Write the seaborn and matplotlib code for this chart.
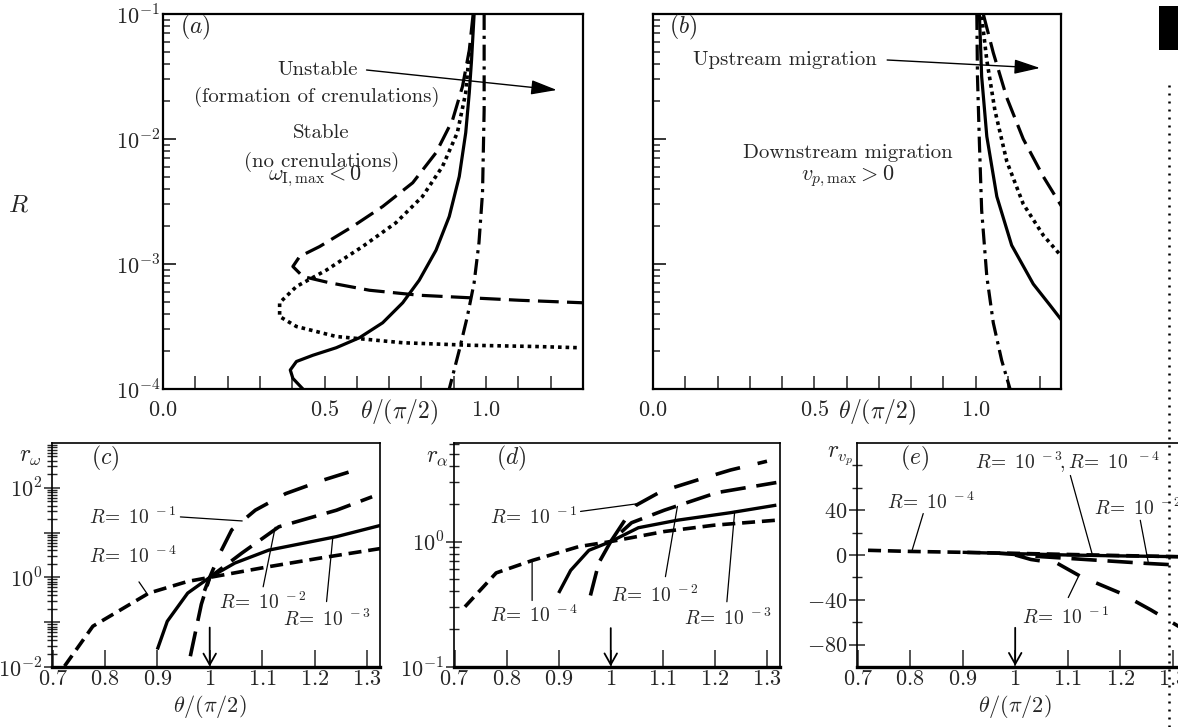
import numpy as np
import pandas as pd
import matplotlib
matplotlib.use("Agg")
import matplotlib.pyplot as plt
import matplotlib.ticker as mticker
from matplotlib.patches import Rectangle
from matplotlib.lines import Line2D
import seaborn as sns

# ---------------- data ----------------
# Panel (a): x = theta/(pi/2), y = log10(R)
a_solid_x = [0.433, 0.402, 0.394, 0.413, 0.464, 0.536, 0.608, 0.680, 0.742, 0.793,
             0.845, 0.886, 0.917, 0.937, 0.948, 0.955, 0.963]
a_solid_logR = [-4.0, -3.915, -3.848, -3.78, -3.73, -3.67, -3.59, -3.47, -3.31, -3.13,
                -2.89, -2.62, -2.30, -1.95, -1.63, -1.37, -1.0]
a_dash_x = [0.960, 0.948, 0.927, 0.896, 0.845, 0.773, 0.680, 0.587, 0.485, 0.423,
            0.402, 0.433, 0.515, 0.639, 0.793, 0.948, 1.102, 1.297]
a_dash_logR = [-1.0, -1.29, -1.58, -1.85, -2.11, -2.35, -2.54, -2.70, -2.86, -2.94,
               -3.02, -3.10, -3.15, -3.21, -3.25, -3.27, -3.29, -3.31]
a_dot_x = [0.948, 0.937, 0.911, 0.865, 0.803, 0.721, 0.618, 0.505, 0.413, 0.361,
           0.361, 0.413, 0.536, 0.742, 0.948, 1.153, 1.292]
a_dot_logR = [-1.31, -1.63, -1.95, -2.22, -2.46, -2.67, -2.86, -3.05, -3.18, -3.31,
              -3.42, -3.50, -3.58, -3.63, -3.65, -3.66, -3.67]
a_dashdot_x = [0.994, 0.994, 0.989, 0.978, 0.963, 0.942, 0.917, 0.886]
a_dashdot_logR = [-1.0, -1.77, -2.43, -2.83, -3.15, -3.42, -3.69, -4.0]

# Panel (b)
b_dashdot_x = [1.004, 1.006, 1.012, 1.019, 1.035, 1.055, 1.081, 1.107]
b_dashdot_logR = [-1.0, -1.50, -2.03, -2.57, -3.10, -3.47, -3.77, -4.0]
b_solid_x = [1.012, 1.019, 1.035, 1.066, 1.112, 1.179, 1.231, 1.267]
b_solid_logR = [-1.0, -1.50, -1.98, -2.46, -2.85, -3.16, -3.33, -3.45]
b_dot_x = [1.019, 1.035, 1.060, 1.097, 1.148, 1.210, 1.267]
b_dot_logR = [-1.02, -1.37, -1.77, -2.18, -2.52, -2.77, -2.94]
b_dash_x = [1.024, 1.055, 1.097, 1.148, 1.210, 1.267]
b_dash_logR = [-1.0, -1.31, -1.67, -2.00, -2.30, -2.54]

# Panel (c): r_omega (log10)
c_R4_x = [0.723, 0.777, 0.884, 0.958, 1.0, 1.113, 1.21, 1.329]
c_R4_logr = [-1.98, -1.09, -0.35, -0.09, 0.0, 0.24, 0.43, 0.65]
c_R3_x = [0.90, 0.919, 0.958, 1.0, 1.048, 1.113, 1.242, 1.329]
c_R3_logr = [-1.61, -0.98, -0.35, 0.0, 0.32, 0.61, 0.91, 1.17]
c_R2_x = [0.963, 0.984, 1.0, 1.061, 1.132, 1.242, 1.31]
c_R2_logr = [-1.76, -0.6, 0.0, 0.54, 1.13, 1.50, 1.80]
c_R1_x = [0.99, 1.0, 1.02, 1.042, 1.087, 1.145, 1.216, 1.287]
c_R1_logr = [-0.3, 0.0, 0.55, 1.06, 1.50, 1.87, 2.17, 2.43]

# Panel (d): r_alpha (log10)
d_R4_x = [0.72, 0.78, 0.85, 0.939, 1.0, 1.103, 1.198, 1.318]
d_R4_logr = [-0.52, -0.25, -0.15, -0.04, 0.0, 0.08, 0.13, 0.17]
d_R3_x = [0.90, 0.923, 0.958, 1.0, 1.053, 1.128, 1.23, 1.318]
d_R3_logr = [-0.41, -0.23, -0.07, 0.0, 0.11, 0.17, 0.23, 0.29]
d_R2_x = [0.961, 0.977, 1.0, 1.04, 1.103, 1.204, 1.318]
d_R2_logr = [-0.43, -0.17, 0.0, 0.15, 0.25, 0.39, 0.47]
d_R1_x = [1.0, 1.027, 1.049, 1.097, 1.166, 1.23, 1.30]
d_R1_logr = [0.0, 0.17, 0.29, 0.40, 0.49, 0.57, 0.64]

# Panel (e): r_vp (linear)
e_R4_x = [0.72, 0.8, 0.9, 1.0, 1.1, 1.2, 1.31]
e_R4_r = [4.2, 3.2, 2.4, 1.5, 0.5, -0.5, -1.5]
e_R3_x = [0.9, 1.0, 1.1, 1.2, 1.31]
e_R3_r = [2.4, 1.2, 0.0, -0.8, -1.5]
e_R2_x = [0.97, 1.0, 1.05, 1.1, 1.15, 1.2, 1.25, 1.31]
e_R2_r = [1.5, 0.5, -1.5, -3.0, -4.5, -6.0, -7.5, -9.0]
e_R1_x = [1.0, 1.03, 1.08, 1.124, 1.2, 1.258, 1.312]
e_R1_r = [0.0, -4.0, -7.4, -19.0, -34.0, -49.0, -64.0]

# ---------------- style ----------------
sns.set_style("white")
plt.rcParams.update({
    "font.family": "serif",
    "font.serif": ["cmr10", "DejaVu Serif"],
    "mathtext.fontset": "cm",
    "axes.formatter.use_mathtext": True,
    "axes.unicode_minus": False,
    "axes.edgecolor": "black",
    "axes.linewidth": 1.5,
})

W, H = 1178, 727
fig = plt.figure(figsize=(W / 100, H / 100), dpi=100)
fig.patch.set_facecolor("white")


def px_axes(l, t, r, b):
    return fig.add_axes([l / W, 1 - b / H, (r - l) / W, (b - t) / H])


ax_a = px_axes(163, 14, 583, 389)
ax_b = px_axes(653, 14, 1061, 389)
ax_c = px_axes(52, 443, 380, 667)
ax_d = px_axes(454, 443, 780, 667)
ax_e = px_axes(857, 443, 1186, 667)

LW = 2.3
DASH = (6.5, 2.6)
DOT = (1.0, 1.1)
DASHDOT = (5.0, 1.8, 1.0, 1.8)
TICK_FS = 16
TXT_FS = 15


def draw(ax, x, y, dashes=None, lw=LW):
    n = len(ax.lines)
    sns.lineplot(x=x, y=y, ax=ax, sort=False, estimator=None, color="black",
                 linewidth=lw, legend=False)
    line = ax.lines[n]
    if dashes is not None:
        line.set_dashes(dashes)
    line.set_dash_capstyle("butt")
    line.set_solid_capstyle("butt")
    line.set_solid_joinstyle("round")
    ax.set_xlabel("")
    ax.set_ylabel("")


def pw(v):
    return [10.0 ** t for t in v]


# ---------------- panel (a) ----------------
draw(ax_a, a_solid_x, pw(a_solid_logR))
draw(ax_a, a_dash_x, pw(a_dash_logR), DASH)
draw(ax_a, a_dot_x, pw(a_dot_logR), DOT, lw=2.6)
draw(ax_a, a_dashdot_x, pw(a_dashdot_logR), DASHDOT)

# ---------------- panel (b) ----------------
draw(ax_b, b_dashdot_x, pw(b_dashdot_logR), DASHDOT)
draw(ax_b, b_solid_x, pw(b_solid_logR))
draw(ax_b, b_dot_x, pw(b_dot_logR), DOT, lw=2.6)
draw(ax_b, b_dash_x, pw(b_dash_logR), DASH)

ax_a.set_xlim(0, 1.3)
ax_b.set_xlim(0, 1.265)
for ax in (ax_a, ax_b):
    ax.set_yscale("log")
    ax.set_ylim(1e-4, 1e-1)
    xt = [round(0.1 * i, 1) for i in range(0, 13)]
    ax.set_xticks(xt)
    ax.set_xticklabels([r"$%.1f$" % v if v in (0.0, 0.5, 1.0) else "" for v in xt])
    ax.yaxis.set_major_locator(mticker.FixedLocator([1e-4, 1e-3, 1e-2, 1e-1]))
    ax.yaxis.set_minor_locator(mticker.LogLocator(base=10, subs=np.arange(2, 10)))
    ax.yaxis.set_minor_formatter(mticker.NullFormatter())
    ax.tick_params(axis="x", which="major", direction="in", length=9.5, width=1.1,
                   bottom=True, top=False, labelsize=TICK_FS, pad=8)
    ax.tick_params(axis="y", which="major", direction="in", length=9.5, width=1.3,
                   left=True, right=False, labelsize=TICK_FS, pad=2)
    ax.tick_params(axis="y", which="minor", direction="in", length=5, width=1.1,
                   left=True, right=False)
    for s in ax.spines.values():
        s.set_linewidth(1.6)

ax_a.text(0.562, -0.062, r"$\theta/(\pi/2)$", transform=ax_a.transAxes,
          ha="center", va="center", fontsize=17)
ax_b.text(0.548, -0.062, r"$\theta/(\pi/2)$", transform=ax_b.transAxes,
          ha="center", va="center", fontsize=17)

ax_a.set_yticklabels([r"$10^{-4}$", r"$10^{-3}$", r"$10^{-2}$", r"$10^{-1}$"])
ax_b.set_yticklabels(["", "", "", ""])

ax_a.text(0.04, 0.963, r"$(a)$", transform=ax_a.transAxes, fontsize=17, va="center")
ax_b.text(0.04, 0.963, r"$(b)$", transform=ax_b.transAxes, fontsize=17, va="center")
ax_a.text(-0.345, 0.49, r"$R$", transform=ax_a.transAxes, fontsize=18,
          ha="center", va="center")

ax_a.text(0.478, 10 ** -1.448, "Unstable", ha="center", va="center", fontsize=TXT_FS)
ax_a.text(0.475, 10 ** -1.664, "(formation of crenulations)", ha="center",
          va="center", fontsize=TXT_FS)
ax_a.text(0.49, 10 ** -1.95, "Stable", ha="center", va="center", fontsize=TXT_FS)
ax_a.text(0.49, 10 ** -2.18, "(no crenulations)", ha="center", va="center",
          fontsize=TXT_FS)
ax_a.text(0.47, 10 ** -2.30, r"$\omega_{\mathrm{I},\max} < 0$", ha="center",
          va="center", fontsize=16)
ax_a.annotate("", xy=(1.219, 10 ** -1.608), xytext=(0.63, 10 ** -1.448),
              arrowprops=dict(arrowstyle="-|>,head_length=1.6,head_width=0.45",
                              color="black", lw=1.0, shrinkA=0, shrinkB=0))

ax_b.text(0.409, 10 ** -1.368, "Upstream migration", ha="center", va="center",
          fontsize=TXT_FS)
ax_b.annotate("", xy=(1.200, 10 ** -1.432), xytext=(0.726, 10 ** -1.368),
              arrowprops=dict(arrowstyle="-|>,head_length=1.6,head_width=0.45",
                              color="black", lw=1.0, shrinkA=0, shrinkB=0))
ax_b.text(0.605, 10 ** -2.112, "Downstream migration", ha="center", va="center",
          fontsize=TXT_FS)
ax_b.text(0.605, 10 ** -2.30, r"$v_{p,\max} > 0$", ha="center", va="center",
          fontsize=16)

# ---------------- panel (c) ----------------
DASH_SHORT = (3.6, 1.9)
DASH_LONG = (7.0, 3.0)
DASH_GAP = (7.0, 5.0)

draw(ax_c, c_R4_x, pw(c_R4_logr), DASH_SHORT, lw=2.6)
draw(ax_c, c_R3_x, pw(c_R3_logr), None, lw=2.4)
draw(ax_c, c_R2_x, pw(c_R2_logr), DASH_LONG, lw=2.6)
draw(ax_c, c_R1_x, pw(c_R1_logr), DASH_GAP, lw=2.6)

# ---------------- panel (d) ----------------
draw(ax_d, d_R4_x, pw(d_R4_logr), DASH_SHORT, lw=2.6)
draw(ax_d, d_R3_x, pw(d_R3_logr), None, lw=2.4)
draw(ax_d, d_R2_x, pw(d_R2_logr), DASH_LONG, lw=2.6)
draw(ax_d, d_R1_x, pw(d_R1_logr), DASH_GAP, lw=2.6)

# ---------------- panel (e) ----------------
draw(ax_e, e_R4_x, e_R4_r, DASH_SHORT, lw=2.6)
draw(ax_e, e_R3_x, e_R3_r, None, lw=2.4)
draw(ax_e, e_R2_x, e_R2_r, DASH_LONG, lw=2.6)
draw(ax_e, e_R1_x, e_R1_r, DASH_GAP, lw=2.6)

xt_low = [0.7, 0.8, 0.9, 1.0, 1.1, 1.2, 1.3]
xt_lab = [r"$0.7$", r"$0.8$", r"$0.9$", r"$1$", r"$1.1$", r"$1.2$", r"$1.3$"]
for ax in (ax_c, ax_d, ax_e):
    ax.set_xlim(0.699, 1.325)
    ax.set_xticks(xt_low)
    ax.set_xticklabels(xt_lab)
    ax.tick_params(axis="x", which="major", direction="in", length=12, width=1.1,
                   bottom=True, top=False, labelsize=TICK_FS, pad=2)
    for s in ax.spines.values():
        s.set_linewidth(1.2)
    ax.spines["bottom"].set_linewidth(2.4)

ax_c.set_yscale("log")
ax_c.set_ylim(1e-2, 1e3)
ax_c.yaxis.set_major_locator(mticker.FixedLocator([1e-2, 1e-1, 1e0, 1e1, 1e2]))
ax_c.set_yticklabels([r"$10^{-2}$", "", r"$10^{0}$", "", r"$10^{2}$"])
ax_c.yaxis.set_minor_locator(mticker.LogLocator(base=10, subs=np.arange(2, 10)))
ax_c.yaxis.set_minor_formatter(mticker.NullFormatter())

ax_d.set_yscale("log")
ax_d.set_ylim(1e-1, 6.1)
ax_d.yaxis.set_major_locator(mticker.FixedLocator([1e-1, 1e0]))
ax_d.set_yticklabels([r"$10^{-1}$", r"$10^{0}$"])
ax_d.yaxis.set_minor_locator(mticker.LogLocator(base=10, subs=np.arange(2, 10)))
ax_d.yaxis.set_minor_formatter(mticker.NullFormatter())

ax_e.set_ylim(-100, 100)
ax_e.yaxis.set_major_locator(mticker.FixedLocator([-80, -40, 0, 40]))
ax_e.set_yticklabels([r"$-80$", r"$-40$", r"$0$", r"$40$"])
ax_e.yaxis.set_minor_locator(mticker.FixedLocator([-60, -20, 20, 60, 80]))

for ax in (ax_c, ax_d, ax_e):
    ax.tick_params(axis="y", which="major", direction="inout", length=12, width=1.1,
                   left=True, right=False, labelsize=TICK_FS, pad=1)
    ax.tick_params(axis="y", which="minor", direction="inout", length=7, width=1.0,
                   left=True, right=False)

ax_c.text(0.12, 0.93, r"$(c)$", transform=ax_c.transAxes, fontsize=17, va="center")
ax_d.text(0.13, 0.93, r"$(d)$", transform=ax_d.transAxes, fontsize=17, va="center")
ax_e.text(0.13, 0.93, r"$(e)$", transform=ax_e.transAxes, fontsize=17, va="center")
ax_c.text(-0.065, 0.94, r"$r_{\omega}$", transform=ax_c.transAxes, fontsize=17,
          ha="center", va="center")
ax_d.text(-0.05, 0.94, r"$r_{\alpha}$", transform=ax_d.transAxes, fontsize=17,
          ha="center", va="center")
ax_e.text(-0.05, 0.94, r"$r_{v_p}$", transform=ax_e.transAxes, fontsize=17,
          ha="center", va="center")
ax_c.text(0.48, -0.178, r"$\theta/(\pi/2)$", transform=ax_c.transAxes, ha="center",
          va="center", fontsize=16)
ax_e.text(0.48, -0.178, r"$\theta/(\pi/2)$", transform=ax_e.transAxes, ha="center",
          va="center", fontsize=16)

LBL = {1: r"$R\!=\ 10^{\ -1}$", 2: r"$R\!=\ 10^{\ -2}$",
       3: r"$R\!=\ 10^{\ -3}$", 4: r"$R\!=\ 10^{\ -4}$"}


def note(ax, text, xy_end, xy_start, xy_text):
    ax.text(xy_text[0], xy_text[1], text, ha="left", va="center", fontsize=14)
    ax.annotate("", xy=xy_end, xytext=xy_start,
                arrowprops=dict(arrowstyle="-", color="black", lw=0.9,
                                shrinkA=0, shrinkB=0))


# (c) annotations
note(ax_c, LBL[1], (1.062, 10 ** 1.26), (0.944, 10 ** 1.35), (0.770, 10 ** 1.33))
note(ax_c, LBL[4], (0.882, 10 ** -0.39), (0.865, 10 ** -0.10), (0.770, 10 ** 0.467))
note(ax_c, LBL[2], (1.125, 10 ** 1.12), (1.102, 10 ** -0.21), (1.017, 10 ** -0.56))
note(ax_c, LBL[3], (1.235, 10 ** 0.90), (1.223, 10 ** -0.54), (1.14, 10 ** -0.94))
# (d) annotations
note(ax_d, LBL[1], (1.049, 10 ** 0.30), (0.942, 10 ** 0.24), (0.769, 10 ** 0.19))
note(ax_d, LBL[4], (0.849, 10 ** -0.15), (0.849, 10 ** -0.47), (0.769, 10 ** -0.59))
note(ax_d, LBL[2], (1.128, 10 ** 0.28), (1.105, 10 ** -0.28), (1.001, 10 ** -0.43))
note(ax_d, LBL[3], (1.238, 10 ** 0.24), (1.223, 10 ** -0.48), (1.141, 10 ** -0.61))
# (e) annotations
note(ax_e, LBL[4], (0.804, 4.4), (0.825, 37), (0.756, 47.4))
note(ax_e, r"$R\!=\ 10^{\ -3}\!,R\!=\ 10^{\ \ -4}$", (1.147, 0.0), (1.105, 71),
     (0.924, 82.9))
note(ax_e, LBL[2], (1.253, -6), (1.238, 31), (1.149, 41.8))
note(ax_e, LBL[1], (1.12, -19.5), (1.101, -38), (1.013, -56))

# downward arrows at theta/(pi/2) = 1
for ax, y0, y1 in ((ax_c, 10 ** -1.12, 10 ** -1.99), (ax_d, 10 ** -0.69, 10 ** -0.995),
                   (ax_e, -65, -99)):
    ax.annotate("", xy=(1.0, y1), xytext=(1.0, y0),
                arrowprops=dict(arrowstyle="->,head_length=0.8,head_width=0.45",
                                color="black", lw=1.3, shrinkA=0, shrinkB=0))

# page-crop artefacts at the right edge
fig.add_artist(Rectangle((1159 / W, 1 - 50 / H), 19 / W, 44 / H, transform=fig.transFigure,
                         facecolor="black", edgecolor="none"))
fig.add_artist(Line2D([1169 / W, 1169 / W], [1 - 85 / H, 0], transform=fig.transFigure,
                      color="black", lw=1.8, linestyle=(0, (0.8, 2.4)), zorder=10))

fig.savefig("out.png", dpi=100, facecolor="white")
